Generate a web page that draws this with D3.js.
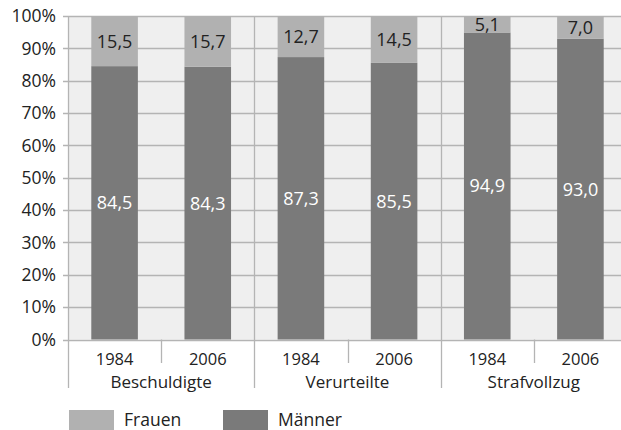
<!DOCTYPE html>
<html><head><meta charset="utf-8">
<script src="https://cdn.jsdelivr.net/npm/d3@7"></script>
<style>body{margin:0;background:#fff}svg{display:block}text{font-family:"Open Sans",sans-serif;fill:#222}</style>
</head><body><svg id="c" width="621" height="430"></svg>
<script>
const groups = ["Beschuldigte","Verurteilte","Strafvollzug"];
const years = ["1984","2006"];
const frauen = [15.5,15.7,12.7,14.5,5.1,7.0];
const maenner = [84.5,84.3,87.3,85.5,94.9,93.0];
const yTicks = [0,10,20,30,40,50,60,70,80,90,100];
const seriesNames = ["Frauen","Männer"];
const colors = {Frauen:"#b1b1b1", Männer:"#7a7a7a"};

const fmt = v => v.toFixed(1).replace(".", ",");
const svg = d3.select("#c");
const L = 68, R = 627, T = 16, B = 339.5;
const bars = [];
groups.forEach((g,gi)=>years.forEach((yr,yi)=>bars.push({id:gi*2+yi,group:g,year:yr,f:frauen[gi*2+yi],m:maenner[gi*2+yi]})));
const x = d3.scaleBand().domain(bars.map(d=>d.id)).range([L,R]).paddingInner(0.5).paddingOuter(0.25);
const y = d3.scaleLinear().domain([0,100]).range([B,T]);

svg.append("rect").attr("x",L).attr("y",T).attr("width",R-L).attr("height",B-T).attr("fill","#efefef");
svg.append("g").selectAll("line").data(yTicks).join("line")
  .attr("x1",L-5).attr("x2",R).attr("y1",d=>Math.round(y(d))+0.5).attr("y2",d=>Math.round(y(d))+0.5)
  .attr("stroke","#b4b4b4").attr("stroke-width",1.3);
const step = x.step();
const gx = [1,2].map(i=>Math.round(L+i*2*step)+0.5);
svg.append("g").selectAll("line").data(gx).join("line")
  .attr("x1",d=>d).attr("x2",d=>d).attr("y1",T).attr("y2",388).attr("stroke","#b4b4b4").attr("stroke-width",1.3);
svg.append("g").selectAll("line").data([0,1,2]).join("line")
  .attr("x1",d=>Math.round(L+(d*2+1)*step)+0.5).attr("x2",d=>Math.round(L+(d*2+1)*step)+0.5)
  .attr("y1",B).attr("y2",363).attr("stroke","#b4b4b4").attr("stroke-width",1.3);
svg.append("line").attr("x1",L+0.5).attr("x2",L+0.5).attr("y1",T).attr("y2",388).attr("stroke","#b4b4b4").attr("stroke-width",1.3);

const bw = x.bandwidth();
const bg = svg.append("g");
bg.selectAll("rect.m").data(bars).join("rect").attr("class","m")
  .attr("x",d=>x(d.id)).attr("width",bw).attr("y",d=>y(d.m)).attr("height",d=>y(0)-y(d.m)).attr("fill",colors["Männer"]);
bg.selectAll("rect.f").data(bars).join("rect").attr("class","f")
  .attr("x",d=>x(d.id)).attr("width",bw).attr("y",d=>y(d.m+d.f)).attr("height",d=>y(d.m)-y(d.m+d.f)).attr("fill",colors["Frauen"]);
bg.selectAll("text.f").data(bars).join("text").attr("class","f")
  .attr("x",d=>x(d.id)+bw/2).attr("y",d=>y(d.m+d.f/2)).attr("dy","0.36em").attr("text-anchor","middle")
  .attr("font-size",18).text(d=>fmt(d.f));
bg.selectAll("text.m").data(bars).join("text").attr("class","m")
  .attr("x",d=>x(d.id)+bw/2).attr("y",d=>y(d.m/2)).attr("dy","0.36em").attr("text-anchor","middle")
  .attr("font-size",18).style("fill","#fff").text(d=>fmt(d.m));

svg.append("g").selectAll("text").data(yTicks).join("text")
  .attr("x",56).attr("y",d=>y(d)).attr("dy","0.36em").attr("text-anchor","end").attr("font-size",17.5).text(d=>d+"%");
svg.append("g").selectAll("text").data(bars).join("text")
  .attr("x",d=>x(d.id)+bw/2).attr("y",364.5).attr("text-anchor","middle").attr("font-size",16.5).text(d=>d.year);
svg.append("g").selectAll("text").data(groups).join("text")
  .attr("x",(d,i)=>L+(i*2+1)*step).attr("y",388).attr("text-anchor","middle").attr("font-size",17).text(d=>d);

const lg = svg.append("g");
const lx = [69,223];
seriesNames.forEach((s,i)=>{
  lg.append("rect").attr("x",lx[i]).attr("y",410).attr("width",45).attr("height",20).attr("fill",colors[s]);
  lg.append("text").attr("x",lx[i]+55).attr("y",426).attr("font-size",17.5).text(s);
});
</script></body></html>
